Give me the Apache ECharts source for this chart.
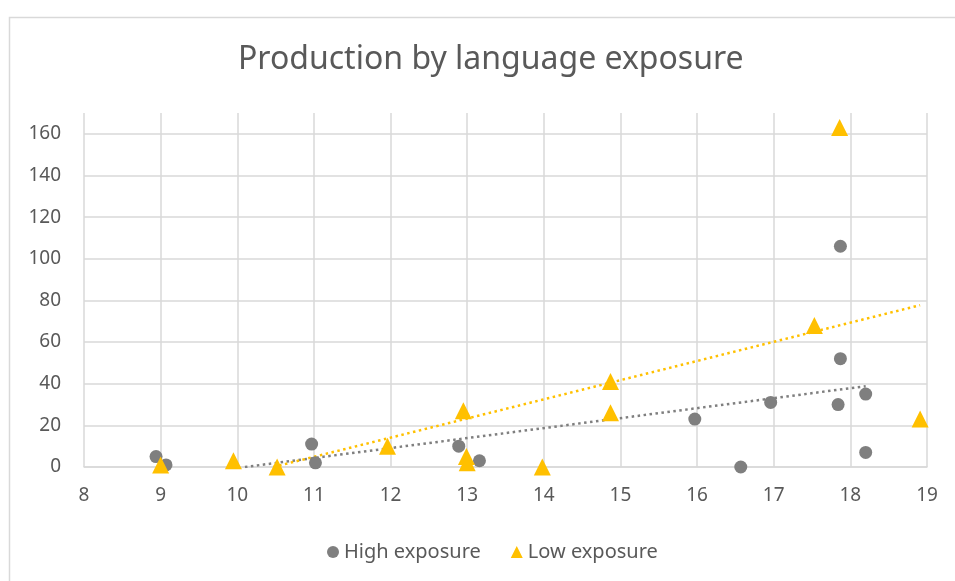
<!DOCTYPE html>
<html>
<head>
<meta charset="utf-8">
<title>Production by language exposure</title>
<script src="https://cdn.jsdelivr.net/npm/echarts@6/dist/echarts.min.js"></script>
<style>
  html, body { margin: 0; padding: 0; background: #fff; }
  #main { width: 955px; height: 581px; }
</style>
</head>
<body>
<div id="main"></div>
<script>
// 数据（从图上读出来的）
const highX = [8.94, 9.07, 10.97, 11.02, 12.89, 13.16, 15.97, 16.57, 16.96, 17.87, 17.87, 17.84, 18.2, 18.2];
const highY = [5, 1, 11, 2, 10, 3, 23, 0, 31, 106, 52, 30, 35, 7];
const lowX = [9.0, 9.95, 10.52, 11.96, 12.95, 12.99, 13.0, 13.98, 14.87, 14.87, 17.86, 17.53, 18.91];
const lowY = [1, 3, 0, 10, 27, 5, 2, 0, 41, 26, 163, 68, 23];
// 趋势线两端
const highTrendX = [10.1, 18.2];
const highTrendY = [0, 38.8];
const lowTrendX = [10.47, 18.91];
const lowTrendY = [0, 77.7];

const xTicks = { min: 8, max: 19, step: 1 };
const yTicks = { min: 0, max: 170, step: 20 };

const gray = '#7f7f7f';
const gold = '#ffc000';
const textColor = '#595959';
const gridColor = '#d9d9d9';

function pairs(xs, ys) {
  return xs.map((x, i) => [x, ys[i]]);
}

const chart = echarts.init(document.getElementById('main'));

const option = {
  backgroundColor: '#ffffff',
  animation: false,
  textStyle: { fontFamily: 'Noto Sans' },
  title: {
    text: 'Production by language exposure',
    left: 233,
    top: 39,
    textStyle: { fontSize: 32, fontWeight: 'normal', color: textColor, fontFamily: 'Noto Sans' }
  },
  // 外框
  graphic: [{
    type: 'rect',
    left: 7,
    top: 15,
    shape: { width: 1000, height: 1000 },
    style: { fill: 'none', stroke: gridColor, lineWidth: 1.5 },
    silent: true
  }],
  grid: { left: 84, right: 28, top: 113, bottom: 114 },
  legend: {
    data: [
      { name: 'High exposure', icon: 'circle' },
      { name: 'Low exposure', icon: 'triangle' }
    ],
    left: 322,
    bottom: 14,
    itemWidth: 12,
    itemHeight: 12,
    itemGap: 30,
    textStyle: { fontSize: 20, color: textColor }
  },
  xAxis: {
    type: 'value',
    min: xTicks.min,
    max: xTicks.max,
    interval: xTicks.step,
    axisLine: { show: true, lineStyle: { color: gridColor, width: 1.5 } },
    axisTick: { show: false },
    axisLabel: { color: textColor, fontSize: 19, margin: 19 },
    splitLine: { show: true, lineStyle: { color: gridColor, width: 1.5 } }
  },
  yAxis: {
    type: 'value',
    min: yTicks.min,
    max: yTicks.max,
    interval: yTicks.step,
    axisLine: { show: false },
    axisTick: { show: false },
    axisLabel: { color: textColor, fontSize: 19, margin: 23, showMaxLabel: false },
    splitLine: { show: true, showMaxLine: false, lineStyle: { color: gridColor, width: 1.5 } }
  },
  series: [
    {
      name: 'High trend',
      type: 'line',
      data: pairs(highTrendX, highTrendY),
      symbol: 'none',
      silent: true,
      lineStyle: { color: gray, width: 2.5, type: [2.5, 3.5] },
      z: 1
    },
    {
      name: 'Low trend',
      type: 'line',
      data: pairs(lowTrendX, lowTrendY),
      symbol: 'none',
      silent: true,
      lineStyle: { color: gold, width: 2.5, type: [2.5, 3.5] },
      z: 1
    },
    {
      name: 'High exposure',
      type: 'scatter',
      data: pairs(highX, highY),
      symbol: 'circle',
      symbolSize: 13,
      itemStyle: { color: gray, opacity: 1 },
      z: 3
    },
    {
      name: 'Low exposure',
      type: 'scatter',
      data: pairs(lowX, lowY),
      symbol: 'triangle',
      symbolSize: 17,
      itemStyle: { color: gold, opacity: 1 },
      clip: false,
      z: 4
    }
  ]
};

chart.setOption(option);
</script>
</body>
</html>
